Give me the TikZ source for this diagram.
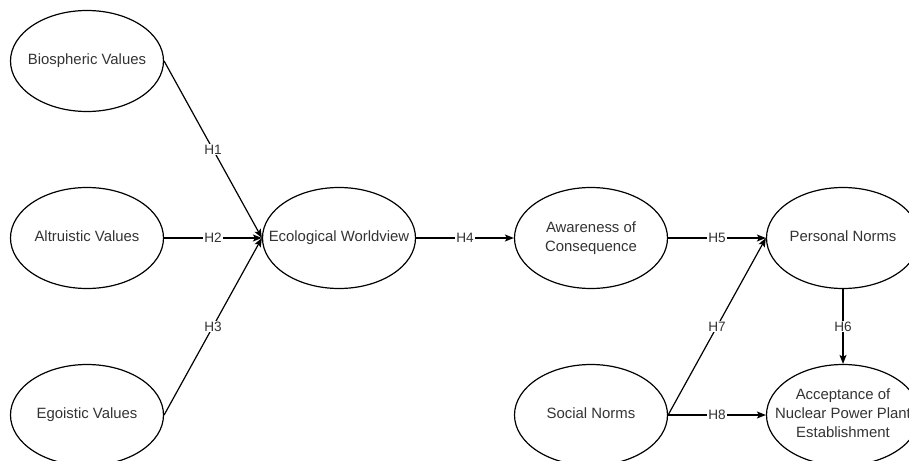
\documentclass[tikz,border=0pt]{standalone}
\usepackage{fontspec}
\setmainfont{Liberation Sans}
\usetikzlibrary{shapes.geometric,arrows.meta}
% text of a construct, kept out of the ellipse's size
\newcommand{\cname}[1]{\makebox[0pt]{\raisebox{-1.5pt}{\begin{tabular}{@{}c@{}}#1\end{tabular}}}}
\begin{document}
\begin{tikzpicture}[x = 1pt, y = -1pt,
    construct/.style = {ellipse, draw, line width = 1.2pt, minimum width = 153pt,
      minimum height = 101pt, inner sep = 0pt, text = black!80,
      font = \fontsize{14.9}{19}\selectfont},
    hyparrow/.style = {line width = 1.2pt, -{Stealth[length = 9pt, width = 7pt, inset = 2pt]}},
    hyp/.style = {fill = white, inner sep = 1pt, text = black!80,
      font = \fontsize{13.6}{16}\selectfont}]
    \useasboundingbox (0,0) rectangle (909,460);
    \clip (0,0) rectangle (909,460);
    \node [construct] (bio) at (87,61) {\cname{Biospheric Values}};
    \node [construct] (alt) at (87,238) {\cname{Altruistic Values}};
    \node [construct] (ego) at (87,415) {\cname{Egoistic Values}};
    \node [construct] (eco) at (339,238) {\cname{Ecological Worldview}};
    \node [construct] (awa) at (591,238) {\cname{Awareness of\\Consequence}};
    \node [construct] (soc) at (591,415) {\cname{Social Norms}};
    \node [construct] (per) at (843,238) {\cname{Personal Norms}};
    \node [construct] (acc) at (843,415) {\cname{Acceptance of\\Nuclear Power Plant\\Establishment}};
    \draw [hyparrow] (bio.east) -- node [hyp] {H1} (eco.west);
    \draw [hyparrow] (alt.east) -- node [hyp] {H2} (eco.west);
    \draw [hyparrow] (ego.east) -- node [hyp] {H3} (eco.west);
    \draw [hyparrow] (eco.east) -- node [hyp] {H4} (awa.west);
    \draw [hyparrow] (awa.east) -- node [hyp] {H5} (per.west);
    \draw [hyparrow] (per.south) -- node [hyp] {H6} (acc.north);
    \draw [hyparrow] (soc.east) -- node [hyp] {H7} (per.west);
    \draw [hyparrow] (soc.east) -- node [hyp] {H8} (acc.west);
\end{tikzpicture}
\end{document}
